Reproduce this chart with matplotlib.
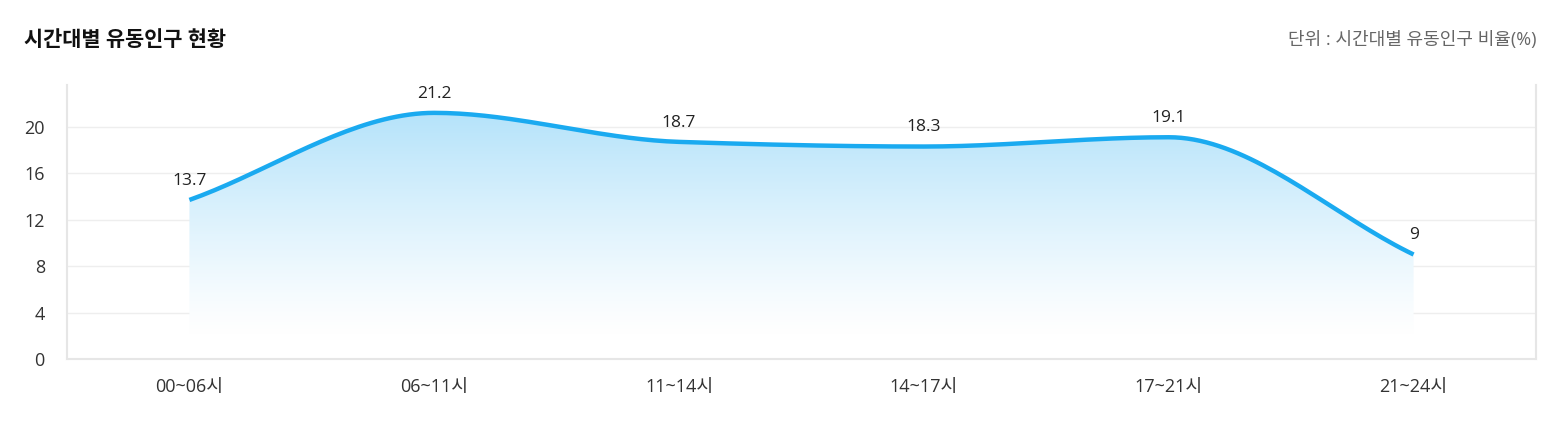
import numpy as np
import matplotlib.pyplot as plt
from matplotlib.colors import LinearSegmentedColormap

plt.rcParams['font.family'] = ['Open Sans', 'Noto Sans CJK KR', 'DejaVu Sans']

# data
categories = ['00~06시', '06~11시', '11~14시', '14~17시', '17~21시', '21~24시']
values = [13.7, 21.2, 18.7, 18.3, 19.1, 9]
value_labels = ['13.7', '21.2', '18.7', '18.3', '19.1', '9']
yticks = [0, 4, 8, 12, 16, 20]

line_color = '#1aaaf0'


def monotone_curve(x, y, n=40):
    # Fritsch-Carlson monotone cubic, just for drawing the smooth line
    x = np.asarray(x, float)
    y = np.asarray(y, float)
    h = np.diff(x)
    d = np.diff(y) / h
    m = np.zeros_like(y)
    m[0], m[-1] = d[0], d[-1]
    for i in range(1, len(y) - 1):
        if d[i - 1] * d[i] <= 0:
            m[i] = 0
        else:
            m[i] = 2 / (1 / d[i - 1] + 1 / d[i])
    xs, ys = [], []
    for i in range(len(x) - 1):
        t = np.linspace(0, 1, n)
        h00 = 2 * t**3 - 3 * t**2 + 1
        h10 = t**3 - 2 * t**2 + t
        h01 = -2 * t**3 + 3 * t**2
        h11 = t**3 - t**2
        xs.append(x[i] + t * h[i])
        ys.append(h00 * y[i] + h10 * h[i] * m[i] + h01 * y[i + 1] + h11 * h[i] * m[i + 1])
    return np.concatenate(xs), np.concatenate(ys)


fig = plt.figure(figsize=(15.58, 4.36), dpi=100)
ax = fig.add_axes([67 / 1558, 1 - 359 / 436, (1536 - 67) / 1558, (359 - 85) / 436])

x = np.arange(len(categories))
xs, ys = monotone_curve(x, values)

# gradient fill under the curve
ymax = 23.6
poly = ax.fill_between(xs, ys, 0, color='none')
cmap = LinearSegmentedColormap.from_list('fade', ['#ffffff', '#b5e3fa'])
grad = np.clip(np.linspace(-0.1, 1, 256), 0, 1).reshape(-1, 1) ** 1.2
im = ax.imshow(grad, extent=[x[0], x[-1], 0, max(values)], origin='lower',
               aspect='auto', cmap=cmap, zorder=1)
im.set_clip_path(poly.get_paths()[0], transform=ax.transData)

ax.plot(xs, ys, color=line_color, lw=3.2, solid_capstyle='butt', zorder=3)

for xi, v, lab in zip(x, values, value_labels):
    ax.annotate(lab, (xi, v), xytext=(0, 8), textcoords='offset points',
                ha='center', va='bottom', fontsize=12.5, color='#222222', zorder=4)

ax.set_xlim(-0.5, len(categories) - 0.5)
ax.set_ylim(0, ymax)
ax.set_xticks(x)
ax.set_xticklabels(categories, fontsize=13, color='#333333')
ax.set_yticks(yticks)
ax.set_yticklabels([str(t) for t in yticks], fontsize=13, color='#333333')
ax.tick_params(length=0)
ax.tick_params(axis='x', pad=14)
ax.tick_params(axis='y', pad=16)
ax.grid(axis='y', color='#eeeeee', lw=1)
ax.set_axisbelow(True)
for s in ['left', 'bottom', 'right']:
    ax.spines[s].set_color('#e6e6e6')
    ax.spines[s].set_linewidth(1.5)
ax.spines['top'].set_visible(False)

fig.text(24 / 1558, 1 - 40 / 436, '시간대별 유동인구 현황', fontsize=15, fontweight='bold',
         color='#111111', ha='left', va='center')
fig.text(1536 / 1558, 1 - 40 / 436, '단위 : 시간대별 유동인구 비율(%)', fontsize=13,
         color='#666666', ha='right', va='center')

fig.savefig('out.png', dpi=100, facecolor='white')
